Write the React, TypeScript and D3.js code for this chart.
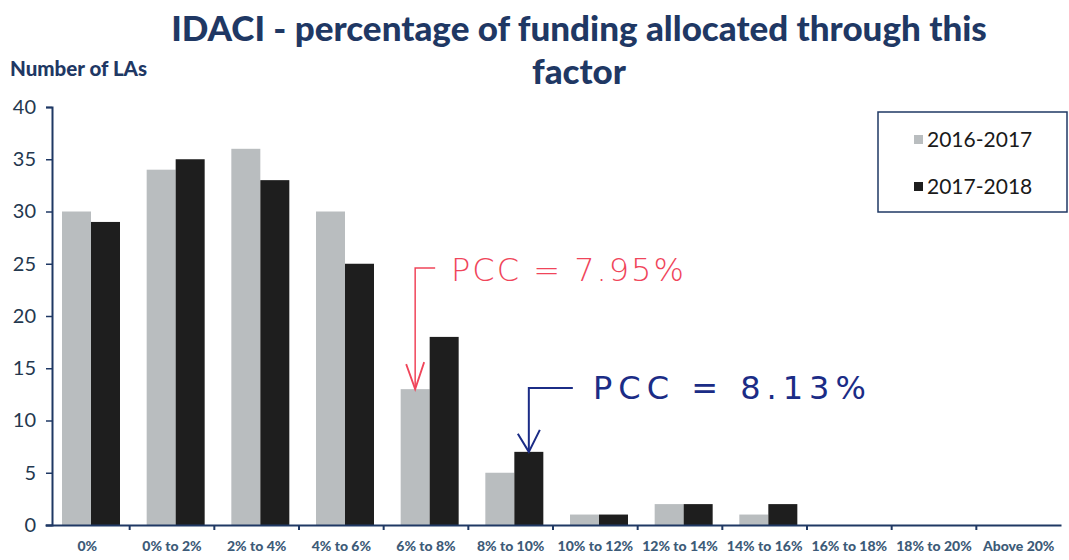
import React, { useEffect, useRef } from "react";
import * as d3 from "d3";

const categories = [
  "0%", "0% to 2%", "2% to 4%", "4% to 6%", "6% to 8%", "8% to 10%",
  "10% to 12%", "12% to 14%", "14% to 16%", "16% to 18%", "18% to 20%", "Above 20%",
];
const seriesNames = ["2016-2017", "2017-2018"];
const values2016 = [30, 34, 36, 30, 13, 5, 1, 2, 1, 0, 0, 0];
const values2017 = [29, 35, 33, 25, 18, 7, 1, 2, 2, 0, 0, 0];
const yTicks = [0, 5, 10, 15, 20, 25, 30, 35, 40];

const colors = ["#b9bdbf", "#1e1e1e"];
const navy = "#1f3864";

export default function App() {
  const ref = useRef<SVGSVGElement | null>(null);

  useEffect(() => {
    const el = ref.current;
    if (!el) return;
    const svg = d3.select(el);
    svg.selectAll("*").remove();

    const width = 1069, height = 560;
    const x = d3.scaleBand<string>().domain(categories).range([45, 1061]);
    const inner = d3.scaleBand<string>().domain(seriesNames).range([0, 58]);
    const y = d3.scaleLinear().domain([0, 40]).range([525, 107]);

    // title
    const title = svg.append("text")
      .attr("x", 579).attr("text-anchor", "middle")
      .attr("font-family", "Lato, 'Open Sans', sans-serif")
      .attr("font-weight", 900).attr("font-size", 35).attr("fill", navy);
    title.append("tspan").attr("x", 579).attr("y", 41)
      .text("IDACI - percentage of funding allocated through this");
    title.append("tspan").attr("x", 579).attr("y", 84).text("factor");

    svg.append("text")
      .attr("x", 10).attr("y", 76)
      .attr("font-family", "Lato, 'Open Sans', sans-serif")
      .attr("font-weight", 900).attr("font-size", 20.5).attr("fill", navy)
      .text("Number of LAs");

    // bars
    const data = [values2016, values2017];
    data.forEach((vals, si) => {
      svg.append("g").selectAll("rect")
        .data(vals)
        .join("rect")
        .attr("x", (_, i) => (x(categories[i]) as number) + 17 + (inner(seriesNames[si]) as number))
        .attr("y", d => y(d))
        .attr("width", inner.bandwidth())
        .attr("height", d => y(0) - y(d))
        .attr("fill", colors[si]);
    });

    // y axis
    const yAxis = svg.append("g")
      .attr("transform", "translate(52,0)")
      .call(d3.axisLeft(y).tickValues(yTicks).tickSize(6).tickPadding(10));
    yAxis.select(".domain").attr("stroke", navy).attr("stroke-width", 2);
    yAxis.selectAll(".tick line").attr("stroke", navy).attr("stroke-width", 1.5);
    yAxis.selectAll("text")
      .attr("font-family", "Lato, 'Open Sans', sans-serif")
      .attr("font-size", 20).attr("fill", "#24384f");

    // x axis
    const xAxis = svg.append("g")
      .attr("transform", "translate(0,525)")
      .call(d3.axisBottom(x).tickSize(0).tickPadding(16));
    xAxis.select(".domain").attr("stroke", navy).attr("stroke-width", 2);
    xAxis.selectAll("text")
      .attr("font-family", "Lato, 'Open Sans', sans-serif")
      .attr("font-weight", 900).attr("font-size", 14).attr("fill", "#3d5b78");
    xAxis.append("g").selectAll("line")
      .data(categories.slice(1))
      .join("line")
      .attr("x1", d => x(d) as number).attr("x2", d => x(d) as number)
      .attr("y1", 0).attr("y2", 5)
      .attr("stroke", navy).attr("stroke-width", 2);

    // legend
    const lg = svg.append("g");
    lg.append("rect").attr("x", 878).attr("y", 112).attr("width", 189).attr("height", 100)
      .attr("fill", "white").attr("stroke", navy).attr("stroke-width", 1.5);
    seriesNames.forEach((name, i) => {
      const cy = 140 + i * 47;
      lg.append("rect").attr("x", 914).attr("y", cy - 5).attr("width", 9).attr("height", 9)
        .attr("fill", colors[i]);
      lg.append("text").attr("x", 927).attr("y", cy + 7)
        .attr("font-family", "Lato, 'Open Sans', sans-serif")
        .attr("font-size", 21).attr("fill", "#1a1a1a").text(name);
    });

    // handwritten annotations
    const red = "#f0455a";
    const blue = "#1b2c86";
    const rx = (x("6% to 8%") as number) + 17 + (inner("2016-2017") as number) + inner.bandwidth() / 2;
    const rTip = y(values2016[4]);
    svg.append("path")
      .attr("d", `M${rx + 20},268 L${rx},268 L${rx},${rTip}`)
      .attr("fill", "none").attr("stroke", red).attr("stroke-width", 1.5);
    svg.append("path")
      .attr("d", `M${rx - 9},${rTip - 25} L${rx},${rTip} L${rx + 9},${rTip - 27}`)
      .attr("fill", "none").attr("stroke", red).attr("stroke-width", 1.8);
    svg.append("text").attr("x", 451).attr("y", 281)
      .attr("font-family", "'DejaVu Sans', sans-serif").attr("font-weight", 300)
      .attr("font-size", 32).attr("letter-spacing", 2).attr("fill", red)
      .text("PCC = 7.95%");

    const bx = (x("8% to 10%") as number) + 17 + (inner("2017-2018") as number) + inner.bandwidth() / 2;
    const bTip = y(values2017[5]);
    svg.append("path")
      .attr("d", `M${bx + 44},388 L${bx},388 L${bx},${bTip}`)
      .attr("fill", "none").attr("stroke", blue).attr("stroke-width", 2);
    svg.append("path")
      .attr("d", `M${bx - 11},${bTip - 18} L${bx},${bTip} L${bx + 11},${bTip - 22}`)
      .attr("fill", "none").attr("stroke", blue).attr("stroke-width", 2);
    svg.append("text").attr("x", 593).attr("y", 399)
      .attr("font-family", "'DejaVu Sans', sans-serif")
      .attr("font-size", 32).attr("letter-spacing", 6).attr("fill", blue)
      .text("PCC = 8.13%");

    svg.attr("width", width).attr("height", height);
  }, []);

  return (
    <svg
      ref={ref}
      width={1069}
      height={560}
      style={{ position: "absolute", left: 0, top: 0, background: "white" }}
    />
  );
}
